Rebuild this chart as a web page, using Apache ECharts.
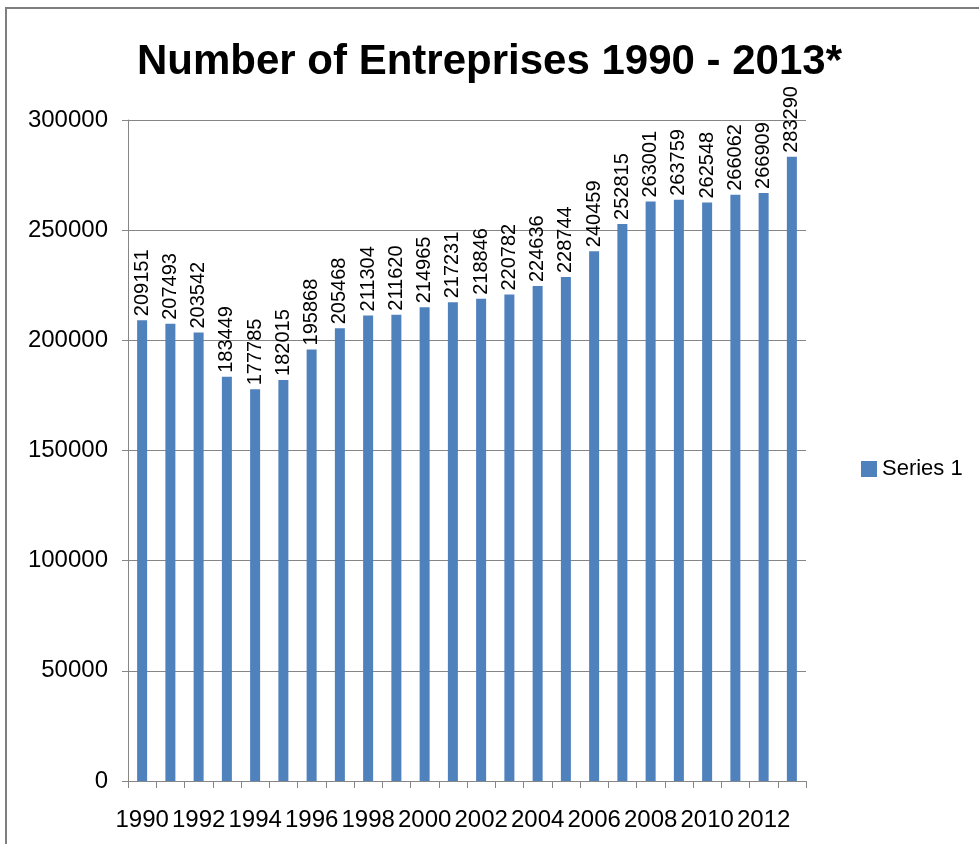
<!DOCTYPE html>
<html>
<head>
<meta charset="utf-8">
<script src="https://cdn.jsdelivr.net/npm/echarts@6/dist/echarts.min.js"></script>
<style>
  html, body { margin: 0; padding: 0; background: #fff; }
  #chart { width: 979px; height: 844px; }
</style>
</head>
<body>
<div id="chart"></div>
<script>
// years on the x axis
const years = ['1990','1991','1992','1993','1994','1995','1996','1997','1998','1999','2000','2001',
  '2002','2003','2004','2005','2006','2007','2008','2009','2010','2011','2012','2013']
// Series 1 values
const series1 = [209151, 207493, 203542, 183449, 177785, 182015, 195868, 205468, 211304, 211620, 214965, 217231,
  218846, 220782, 224636, 228744, 240459, 252815, 263001, 263759, 262548, 266062, 266909, 283290]

const font = 'Liberation Sans'
const chart = echarts.init(document.getElementById('chart'))

chart.setOption({
  animation: false,
  textStyle: { fontFamily: font },
  title: {
    text: 'Number of Entreprises 1990 - 2013*',
    left: 'center',
    top: 36,
    textStyle: { fontSize: 42, fontWeight: 'bold', color: '#000', fontFamily: font }
  },
  legend: {
    data: ['Series 1'],
    orient: 'vertical',
    left: 856,
    top: 453,
    icon: 'rect',
    itemWidth: 16,
    itemHeight: 16,
    itemGap: 8,
    textStyle: { fontSize: 22, color: '#000' }
  },
  grid: { left: 128, right: 173, top: 120, bottom: 63, containLabel: false },
  xAxis: {
    type: 'category',
    data: years,
    axisLine: { lineStyle: { color: '#868686', width: 1 } },
    axisTick: { show: true, length: 7, interval: 0, lineStyle: { color: '#868686' } },
    axisLabel: { interval: 1, hideOverlap: false, color: '#000', fontSize: 24, margin: 27 }
  },
  yAxis: {
    type: 'value',
    min: 0,
    max: 300000,
    interval: 50000,
    axisLine: { show: true, lineStyle: { color: '#868686', width: 1 } },
    axisTick: { show: true, length: 6, lineStyle: { color: '#868686' } },
    axisLabel: { color: '#000', fontSize: 24, margin: 20, formatter: v => String(v) },
    splitLine: { lineStyle: { color: '#868686', width: 1 } }
  },
  series: [{
    name: 'Series 1',
    type: 'bar',
    data: series1,
    barWidth: 10,
    itemStyle: { color: '#4F81BD' },
    label: {
      show: true,
      position: 'top',
      rotate: 90,
      align: 'left',
      verticalAlign: 'middle',
      distance: 4,
      fontSize: 20,
      color: '#000'
    }
  }],
  graphic: [{
    type: 'polyline',
    shape: { points: [[6, 844], [6, 8], [979, 8]] },
    style: { stroke: '#7f7f7f', lineWidth: 2, fill: null }
  }]
})
</script>
</body>
</html>
